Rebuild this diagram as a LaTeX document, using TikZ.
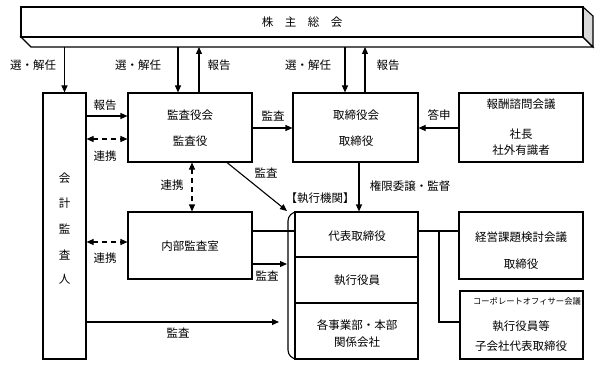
\documentclass[tikz,border=0pt]{standalone}
\usepackage{fontspec}
\setmainfont{Noto Sans CJK JP}
\usetikzlibrary{arrows.meta,calc}
\begin{document}
\begin{tikzpicture}[x=1pt,y=-1pt,
  box/.style={draw,line width=1.1pt,inner sep=0pt},
  txt/.style={inner sep=0pt,font=\fontsize{11.5}{13}\selectfont},
  smalltxt/.style={inner sep=0pt,font=\fontsize{8.3}{9}\selectfont},
  arr/.style={line width=1.1pt,-{Triangle[length=7pt,width=6pt]}},
  darr/.style={line width=1.1pt,dash pattern=on 5pt off 4pt,{Triangle[length=7pt,width=6pt]}-{Triangle[length=7pt,width=6pt]}},
  ln/.style={line width=1.1pt}]
\useasboundingbox (0,0) rectangle (599,366);

% boxes
\node[box,minimum width=43pt,minimum height=266pt] (kaikei) at (64.5,226) {};
\node[box,minimum width=124pt,minimum height=69pt] (kansa) at (190,127.5) {};
\node[box,minimum width=125pt,minimum height=69pt] (torishima) at (355.5,127.5) {};
\node[box,minimum width=124pt,minimum height=69pt] (houshu) at (521,127.5) {};
\node[box,minimum width=124pt,minimum height=67pt] (naibu) at (190,245.5) {};
\node[box,minimum width=123pt,minimum height=45pt] (daihyo) at (356.5,234.5) {};
\node[box,minimum width=123pt,minimum height=46pt] (shikkou) at (356.5,280) {};
\node[box,minimum width=123pt,minimum height=56pt] (kakuji) at (356.5,331) {};
\node[box,minimum width=124pt,minimum height=67pt] (keiei) at (521,245.5) {};
\node[box,minimum width=123pt,minimum height=68pt] (corp) at (521.5,325) {};

% helper coordinates
\coordinate (bevel) at (302,47);
\coordinate (brk) at (287,211);
\coordinate (brkL) at (287,285);
\coordinate (kend) at (279,322);
\coordinate (br) at (439,231);

% top arrows
\draw[arr] (bevel -| kaikei.north) -- (kaikei.north);
\draw[arr] (bevel -| 178,0) -- (kansa.north -| 178,0);
\draw[arr] (kansa.north -| 199,0) -- (bevel -| 199,0);
\draw[arr] (bevel -| 345,0) -- (torishima.north -| 345,0);
\draw[arr] (torishima.north -| 365,0) -- (bevel -| 365,0);

% 3D top box
\draw[ln,fill=white] (21,37) -- (583,37) -- (593,47) -- (31,47) -- cycle;
\draw[ln,fill=gray!30] (583,7) -- (593,16) -- (593,47) -- (583,37) -- cycle;
\node[box,fill=white,minimum width=562pt,minimum height=30pt] (top) at (302,22) {};
\node[txt] (toptxt) at (top) {株\hspace{1em}主\hspace{1em}総\hspace{1em}会};

% bracket of executive group
\draw[ln,rounded corners=9pt] (298,212) -- (288,212) -- (288,359) -- (298,359);

% connectors
\draw[arr] (kaikei.east |- 0,116) -- (kansa.west |- 0,116);
\draw[darr] (kaikei.east |- 0,139) -- (kansa.west |- 0,139);
\draw[arr] (kansa.east |- 0,128) -- (torishima.west |- 0,128);
\draw[arr] (houshu.west |- 0,128) -- (torishima.east |- 0,128);
\draw[darr] (kansa.south -| 192,0) -- (naibu.north -| 192,0);
\draw[arr] (kansa.south -| 227,0) -- (brk);
\draw[arr] (torishima.south -| 359,0) -- (daihyo.north -| 359,0);
\draw[darr] (kaikei.east |- 0,242) -- (naibu.west |- 0,242);
\draw[ln] (naibu.east |- 0,231) -- (daihyo.west |- 0,231);
\draw[arr] (naibu.east |- 0,264) -- (brkL |- 0,264);
\draw[arr] (kaikei.east |- kend) -- (kend);
\draw[ln] (daihyo.east |- br) -- (keiei.west |- br);
\draw[ln] (br) |- (corp.west |- 0,322);

% labels
\node[txt] (l1) at (33,65) {選・解任};
\node[txt] (l2) at (138,65) {選・解任};
\node[txt] (l3) at (219,65) {報告};
\node[txt] (l4) at (308,65) {選・解任};
\node[txt] (l5) at (388,65) {報告};
\node[txt] (l6) at (105,105) {報告};
\node[txt] (l7) at (105,156) {連携};
\node[txt] (l8) at (273,116) {監査};
\node[txt] (l9) at (439,115) {答申};
\node[txt] (l10) at (266,173) {監査};
\node[txt] (l11) at (172,185) {連携};
\node[txt] (l12) at (410,186) {権限委譲・監督};
\node[txt] (l13) at (320,198) {【執行機関】};
\node[txt] (l14) at (105,258) {連携};
\node[txt] (l15) at (267,276) {監査};
\node[txt] (l16) at (178,333) {監査};

% box texts
\foreach \c/\yy [count=\i] in {会/178,計/203,監/229,査/255,人/279}
  \node[txt] (v\i) at (64.5,\yy) {\c};
\node[txt] (t1) at (190,115) {監査役会};
\node[txt] (t2) at (190,141) {監査役};
\node[txt] (t3) at (356,115) {取締役会};
\node[txt] (t4) at (356,141) {取締役};
\node[txt] (t5) at (521,104) {報酬諮問会議};
\node[txt] (t6) at (521,134) {社長};
\node[txt] (t7) at (521,150) {社外有識者};
\node[txt] (t8) at (190,246) {内部監査室};
\node[txt] (t9) at (357,236) {代表取締役};
\node[txt] (t10) at (357,280) {執行役員};
\node[txt] (t11) at (357,325) {各事業部・本部};
\node[txt] (t12) at (357,342) {関係会社};
\node[txt] (t13) at (521,237) {経営課題検討会議};
\node[txt] (t14) at (521,264) {取締役};
\node[smalltxt] (t15) at (527,301) {コーポレートオフィサー会議};
\node[txt] (t16) at (521,326) {執行役員等};
\node[txt] (t17) at (521,346) {子会社代表取締役};
\end{tikzpicture}
\end{document}
